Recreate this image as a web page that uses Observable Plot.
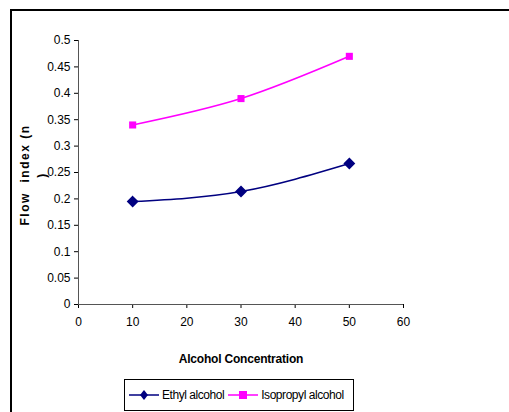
<!DOCTYPE html>
<html>
<head>
<meta charset="utf-8">
<script src="https://cdn.jsdelivr.net/npm/d3@7"></script>
<script src="https://cdn.jsdelivr.net/npm/@observablehq/plot@0.6"></script>
<style>
  html, body { margin: 0; padding: 0; background: #fff; }
  #wrap { position: relative; width: 509px; height: 412px; overflow: hidden; font-family: "Liberation Sans", Arial, sans-serif; }
  #frame { position: absolute; left: 10px; top: 9px; width: 520px; height: 420px; border-left: 2px solid #000; border-top: 2px solid #000; }
  #chart { position: absolute; left: 0; top: 0; }
  .xtitle { position: absolute; left: 0; width: 482px; top: 352px; text-align: center; font-weight: bold; font-size: 12px; letter-spacing: -0.2px; }
  .ytitle { position: absolute; top: 175px; width: 160px; transform: translate(-50%, -50%) rotate(-90deg); transform-origin: 50% 50%; }
  .ytitle div { text-align: center; font-weight: bold; font-size: 12px; letter-spacing: 1.5px; line-height: 17px; white-space: pre; }
  #legend { position: absolute; left: 124px; top: 379px; width: 228px; height: 30px; border: 1px solid #000; display: flex; align-items: center; font-size: 12px; white-space: nowrap; letter-spacing: -0.45px; }
  #legend .item { display: flex; align-items: center; margin-left: 4px; }
  #legend svg { display: block; }
</style>
</head>
<body>
<div id="wrap">
  <div id="frame"></div>
  <div id="chart"></div>
  <div class="xtitle">Alcohol Concentration</div>
  <div class="ytitle" style="left:34px"><div>Flow  index (n</div><div>)</div></div>
  <div id="legend"></div>
</div>
<script>
const concentrations = [10, 30, 50];
const ethylValues = [0.195, 0.214, 0.267];
const isopropylValues = [0.34, 0.39, 0.47];
const seriesNames = ["Ethyl alcohol", "Isopropyl alcohol"];
const seriesColors = ["#000080", "#FF00FF"];
const xTicks = [0, 10, 20, 30, 40, 50, 60];
const yTicks = [0, 0.05, 0.1, 0.15, 0.2, 0.25, 0.3, 0.35, 0.4, 0.45, 0.5];

const ethyl = concentrations.map((c, i) => ({x: c, y: ethylValues[i], s: seriesNames[0]}));
const iso = concentrations.map((c, i) => ({x: c, y: isopropylValues[i], s: seriesNames[1]}));

const chart = Plot.plot({
  width: 509,
  height: 412,
  marginLeft: 78,
  marginRight: 106,
  marginTop: 40,
  marginBottom: 108,
  style: {fontFamily: "'Liberation Sans', Arial, sans-serif", fontSize: "12px", color: "#000", background: "transparent"},
  x: {domain: [0, 60], ticks: xTicks, tickSize: 4, tickPadding: 9, label: null, tickFormat: d => String(d)},
  y: {domain: [0, 0.5], ticks: yTicks, tickSize: 4, tickPadding: 4, label: null, tickFormat: d => String(d)},
  marks: [
    Plot.ruleX([0], {stroke: "#555"}),
    Plot.ruleY([0], {stroke: "#555"}),
    Plot.line(ethyl, {x: "x", y: "y", stroke: seriesColors[0], strokeWidth: 1.6, curve: "monotone-x"}),
    Plot.line(iso, {x: "x", y: "y", stroke: seriesColors[1], strokeWidth: 1.6, curve: "monotone-x"}),
    Plot.dot(ethyl, {x: "x", y: "y", symbol: "diamond2", fill: seriesColors[0], stroke: seriesColors[0], r: 4.4}),
    Plot.dot(iso, {x: "x", y: "y", symbol: "square2", fill: seriesColors[1], stroke: "none", r: 4.5})
  ]
});
document.getElementById("chart").appendChild(chart);

// legend
const legend = document.getElementById("legend");
const symbols = [
  '<polygon points="15,1 19,6 15,11 11,6" fill="' + seriesColors[0] + '"/>',
  '<rect x="11" y="2" width="8" height="8" fill="' + seriesColors[1] + '"/>'
];
seriesNames.forEach((name, i) => {
  const item = document.createElement("div");
  item.className = "item";
  item.innerHTML = '<svg width="30" height="12"><line x1="0" y1="6" x2="30" y2="6" stroke="' + seriesColors[i] + '" stroke-width="1.5"/>' + symbols[i] + '</svg><span style="margin-left:3px">' + name + '</span>';
  legend.appendChild(item);
});
</script>
</body>
</html>
